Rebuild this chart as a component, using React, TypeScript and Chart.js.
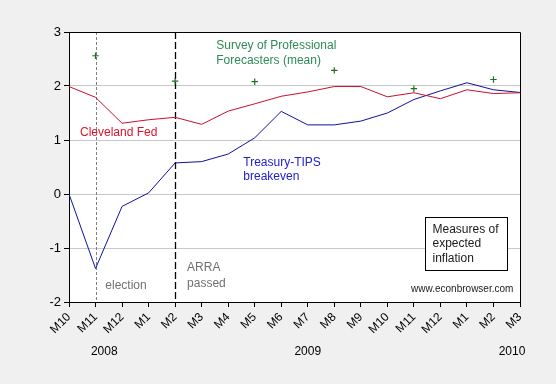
import React, { useEffect, useRef } from "react";
import { Chart, registerables } from "chart.js";

Chart.register(...registerables);

const categories = ["M10", "M11", "M12", "M1", "M2", "M3", "M4", "M5", "M6", "M7", "M8", "M9", "M10", "M11", "M12", "M1", "M2", "M3"];
const tipsBreakeven = [0.0, -1.38, -0.23, 0.02, 0.575, 0.6, 0.74, 1.04, 1.53, 1.28, 1.28, 1.35, 1.5, 1.75, 1.91, 2.06, 1.93, 1.88];
const clevelandFed = [1.99, 1.79, 1.31, 1.375, 1.42, 1.29, 1.535, 1.67, 1.81, 1.89, 1.99, 1.99, 1.8, 1.875, 1.765, 1.93, 1.86, 1.875];
const spfMean = [null, 2.56, null, null, 2.09, null, null, 2.08, null, null, 2.29, null, null, 1.95, null, null, 2.12, null];
const yearLabels = [
  { text: "2008", at: 1.33 },
  { text: "2009", at: 9.0 },
  { text: "2010", at: 16.7 },
];
const yTicks = { min: -2, max: 3, step: 1 };

const FONT = "'Liberation Sans', Arial, sans-serif";

export default function App() {
  const ref = useRef<HTMLCanvasElement | null>(null);
  useEffect(() => {
    document.body.style.margin = "0";
    const canvas = ref.current!;
    const deco = {
      id: "deco",
      beforeDraw(chart: any) {
        const { ctx, chartArea: a } = chart;
        ctx.save();
        ctx.fillStyle = "#f0f0f0";
        ctx.fillRect(0, 0, chart.width, chart.height);
        ctx.fillStyle = "#ffffff";
        ctx.fillRect(a.left, a.top, a.right - a.left, a.bottom - a.top);
        ctx.restore();
      },
      beforeDatasetsDraw(chart: any) {
        const { ctx, chartArea: a, scales } = chart;
        const x = scales.x;
        ctx.save();
        // election line
        ctx.strokeStyle = "#808080";
        ctx.lineWidth = 1;
        ctx.setLineDash([3, 2]);
        let px = Math.round(x.getPixelForValue(1)) + 0.5;
        ctx.beginPath();
        ctx.moveTo(px, a.top);
        ctx.lineTo(px, a.bottom);
        ctx.stroke();
        // ARRA line
        ctx.strokeStyle = "#000000";
        ctx.lineWidth = 1.3;
        ctx.setLineDash([7, 3]);
        px = Math.round(x.getPixelForValue(4)) + 0.5;
        ctx.beginPath();
        ctx.moveTo(px, a.top);
        ctx.lineTo(px, a.bottom);
        ctx.stroke();
        ctx.restore();
      },
      afterDraw(chart: any) {
        const { ctx, chartArea: a, scales } = chart;
        const xs = scales.x;
        const ys = scales.y;
        const step = xs.getPixelForValue(1) - xs.getPixelForValue(0);
        const X = (i: number) => xs.getPixelForValue(0) + i * step;
        const Y = (v: number) => ys.getPixelForValue(v);
        ctx.save();
        // border top/right
        ctx.strokeStyle = "#000";
        ctx.lineWidth = 1;
        ctx.beginPath();
        ctx.moveTo(a.left, Math.round(a.top) + 0.5);
        ctx.lineTo(Math.round(a.right) + 0.5, Math.round(a.top) + 0.5);
        ctx.lineTo(Math.round(a.right) + 0.5, a.bottom);
        ctx.stroke();

        ctx.textBaseline = "middle";
        ctx.textAlign = "left";
        ctx.font = `12px ${FONT}`;
        const text = (s: string, i: number, v: number, color: string, dy = 0) => {
          ctx.fillStyle = color;
          ctx.fillText(s, X(i), Y(v) + dy);
        };
        text("Survey of Professional", 5.55, 2.74, "#2e8b57");
        text("Forecasters (mean)", 5.55, 2.74, "#2e8b57", 15);
        text("Cleveland Fed", 0.415, 1.13, "#e0102a");
        text("Treasury-TIPS", 6.57, 0.58, "#2020d0");
        text("breakeven", 6.57, 0.58, "#2020d0", 14.5);
        text("election", 1.37, -1.7, "#707070");
        text("ARRA", 4.45, -1.36, "#707070");
        text("passed", 4.45, -1.36, "#707070", 16);

        // box
        const bx0 = Math.round(X(13.41)) + 0.5;
        const bx1 = Math.round(X(16.52)) + 0.5;
        const by0 = Math.round(Y(-0.43)) + 0.5;
        const by1 = Math.round(Y(-1.41)) + 0.5;
        ctx.fillStyle = "#fff";
        ctx.fillRect(bx0, by0, bx1 - bx0, by1 - by0);
        ctx.strokeStyle = "#000";
        ctx.lineWidth = 1;
        ctx.strokeRect(bx0, by0, bx1 - bx0, by1 - by0);
        ctx.fillStyle = "#1a1a1a";
        const tx = bx0 + 7;
        ctx.fillText("Measures of", tx, by0 + 12);
        ctx.fillText("expected", tx, by0 + 26.5);
        ctx.fillText("inflation", tx, by0 + 41.5);

        ctx.font = `10px ${FONT}`;
        ctx.textAlign = "right";
        ctx.fillStyle = "#1a1a1a";
        ctx.fillText("www.econbrowser.com", X(16.75), Y(-1.77));

        // year labels
        ctx.font = `12px ${FONT}`;
        ctx.textAlign = "center";
        ctx.fillStyle = "#000";
        for (const yl of yearLabels) {
          ctx.fillText(yl.text, X(yl.at), a.bottom + 50);
        }
        ctx.restore();
      },
    };

    const chart = new Chart(canvas, {
      type: "line",
      data: {
        labels: categories,
        datasets: [
          {
            label: "Cleveland Fed",
            data: clevelandFed,
            borderColor: "#c8102e",
            borderWidth: 1,
            pointRadius: 0,
            tension: 0,
          },
          {
            label: "Treasury-TIPS breakeven",
            data: tipsBreakeven,
            borderColor: "#1010a0",
            borderWidth: 1,
            pointRadius: 0,
            tension: 0,
          },
          {
            label: "Survey of Professional Forecasters (mean)",
            data: spfMean as any,
            borderColor: "#1f6f1f",
            backgroundColor: "#1f6f1f",
            showLine: false,
            pointStyle: "cross",
            pointRadius: 3.2,
            pointBorderWidth: 1.2,
          },
        ],
      },
      options: {
        responsive: false,
        animation: false,
        devicePixelRatio: 1,
        layout: { padding: { top: 32, right: 36, left: 0, bottom: 0 } },
        plugins: { legend: { display: false }, tooltip: { enabled: false } },
        scales: {
          x: {
            type: "category",
            offset: false,
            afterFit(scale: any) {
              scale.height = 82;
            },
            grid: {
              display: true,
              drawOnChartArea: false,
              drawTicks: true,
              tickLength: 5,
              tickColor: "#000",
            },
            border: { color: "#000", width: 1 },
            ticks: {
              autoSkip: false,
              maxRotation: 45,
              minRotation: 45,
              padding: 3,
              color: "#000",
              font: { family: FONT, size: 12 },
            },
          },
          y: {
            min: yTicks.min,
            max: yTicks.max,
            afterFit(scale: any) {
              scale.width = 69;
            },
            grid: {
              color: (c: any) =>
                c.tick && (c.tick.value === yTicks.max || c.tick.value === yTicks.min) ? "rgba(0,0,0,0)" : "#c8c8c8",
              tickColor: "#000",
              tickLength: 5,
            },
            border: { color: "#000", width: 1 },
            ticks: {
              stepSize: yTicks.step,
              padding: 3,
              color: "#000",
              font: { family: FONT, size: 13 },
            },
          },
        },
      },
      plugins: [deco],
    });
    return () => chart.destroy();
  }, []);
  return <canvas ref={ref} width={556} height={384} style={{ display: "block" }} />;
}
